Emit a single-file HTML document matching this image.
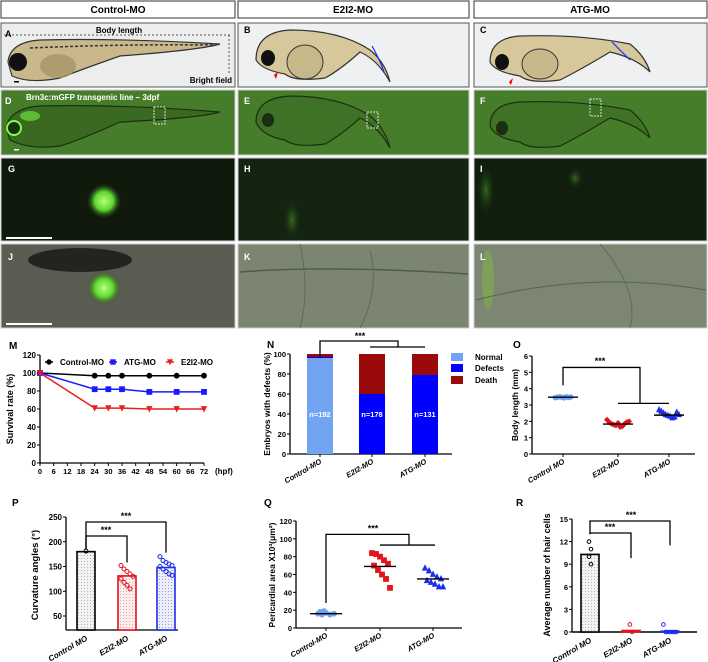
<!DOCTYPE html>
<html><head><meta charset="utf-8">
<style>
html,body{margin:0;padding:0;background:#fff;}
svg{display:block;font-family:"Liberation Sans",Arial,sans-serif;}
text{font-weight:bold;}
</style></head>
<body>
<svg id="fig" width="708" height="662" viewBox="0 0 708 662" xmlns="http://www.w3.org/2000/svg">
<defs>
<radialGradient id="glow" cx="50%" cy="50%" r="50%"><stop offset="0" stop-color="#b6ff7a"/><stop offset="0.55" stop-color="#5fd631"/><stop offset="1" stop-color="#2a5a12" stop-opacity="0"/></radialGradient>
<radialGradient id="glow2" cx="50%" cy="50%" r="50%"><stop offset="0" stop-color="#3f7a24" stop-opacity="0.8"/><stop offset="1" stop-color="#0f1c0c" stop-opacity="0"/></radialGradient>
<pattern id="dots" width="3" height="3" patternUnits="userSpaceOnUse"><rect width="3" height="3" fill="#f2f2f2"/><rect width="1" height="1" fill="#b8b8b8"/></pattern>
<pattern id="dotsR" width="3" height="3" patternUnits="userSpaceOnUse"><rect width="3" height="3" fill="#fbeeee"/><rect width="1" height="1" fill="#e0a0a0"/></pattern>
<pattern id="dotsB" width="3" height="3" patternUnits="userSpaceOnUse"><rect width="3" height="3" fill="#eeeefb"/><rect width="1" height="1" fill="#a0a0e0"/></pattern>
</defs>

<!-- headers -->
<g>
<rect x="1" y="1" width="234" height="17" fill="#fff" stroke="#333" stroke-width="1"/>
<rect x="238" y="1" width="231" height="17" fill="#fff" stroke="#333" stroke-width="1"/>
<rect x="474" y="1" width="233" height="17" fill="#fff" stroke="#333" stroke-width="1"/>
<text x="118" y="13" font-size="10" text-anchor="middle">Control-MO</text>
<text x="353" y="13" font-size="10" text-anchor="middle">E2I2-MO</text>
<text x="590" y="13" font-size="10" text-anchor="middle">ATG-MO</text>
</g>

<!-- Row A-C bright field -->
<g>
<rect x="1" y="23" width="234" height="64" fill="#eceeee" stroke="#555"/>
<path d="M8 62 Q10 42 40 40 Q120 38 220 44 Q200 50 120 56 Q80 70 60 78 Q30 84 12 76 Z" fill="#c9b98a" stroke="#333" stroke-width="1.2"/>
<ellipse cx="18" cy="62" rx="9" ry="9" fill="#111"/>
<ellipse cx="58" cy="66" rx="18" ry="12" fill="#a89467" opacity="0.8"/>
<path d="M30 48 Q120 44 215 45" stroke="#333" stroke-width="1.5" fill="none" stroke-dasharray="3 2"/>
<line x1="4" y1="35" x2="230" y2="35" stroke="#555" stroke-dasharray="2 2"/>
<line x1="229" y1="35" x2="229" y2="75" stroke="#555" stroke-dasharray="2 2"/>
<text x="5" y="37" font-size="9">A</text>
<text x="119" y="33" font-size="8" text-anchor="middle" font-weight="normal">Body length</text>
<text x="232" y="83" font-size="8" text-anchor="end" font-weight="normal">Bright field</text>
<rect x="14" y="81" width="5" height="1.5" fill="#000"/>
</g>
<g>
<rect x="238" y="23" width="231" height="64" fill="#eef0f1" stroke="#555"/>
<path d="M256 60 Q256 32 290 30 Q340 30 370 50 Q385 62 390 82 Q378 60 360 52 Q340 70 325 78 Q295 82 285 74 Q262 70 256 60 Z" fill="#d6c89a" stroke="#333" stroke-width="1.2"/>
<ellipse cx="268" cy="58" rx="7" ry="8" fill="#111"/>
<ellipse cx="305" cy="62" rx="18" ry="17" fill="#c7b889" stroke="#333"/>
<path d="M372 46 Q380 60 384 72" stroke="#1a2cff" stroke-width="1.2" fill="none"/>
<polygon points="278,72 274,75 276,79" fill="#e00"/>
<text x="244" y="33" font-size="9">B</text>
</g>
<g>
<rect x="474" y="23" width="233" height="64" fill="#eef0f1" stroke="#555"/>
<path d="M490 62 Q490 38 520 36 Q580 34 630 44 Q645 56 650 72 Q636 58 610 52 Q580 70 560 80 Q530 84 520 76 Q495 72 490 62 Z" fill="#d6c89a" stroke="#333" stroke-width="1.2"/>
<ellipse cx="502" cy="62" rx="7" ry="8" fill="#111"/>
<ellipse cx="540" cy="64" rx="18" ry="15" fill="#c7b889" stroke="#333"/>
<path d="M612 42 Q622 52 630 60" stroke="#1a2cff" stroke-width="1.2" fill="none"/>
<polygon points="513,78 509,82 511,85" fill="#e00"/>
<text x="480" y="33" font-size="9">C</text>
</g>

<!-- Row D-F green -->
<g>
<rect x="1" y="90" width="234" height="65" fill="#467d2a" stroke="#ccc"/>
<path d="M6 128 Q10 108 40 106 Q120 104 220 112 Q200 118 120 122 Q80 140 60 146 Q30 150 10 140 Z" fill="#3a6a22" stroke="#1c3010" stroke-width="1.2"/>
<ellipse cx="14" cy="128" rx="7" ry="7" fill="#1a2e10" stroke="#7dff45" stroke-width="2"/>
<ellipse cx="30" cy="116" rx="10" ry="5" fill="#6be03a" opacity="0.7"/>
<rect x="154" y="107" width="11" height="17" fill="none" stroke="#ddd" stroke-dasharray="2 1"/>
<text x="5" y="104" font-size="9" fill="#fff">D</text>
<text x="26" y="100" font-size="8" fill="#fff" font-weight="normal">Brn3c:mGFP transgenic line – 3dpf</text>
<rect x="14" y="149" width="5" height="1.5" fill="#fff"/>
</g>
<g>
<rect x="238" y="90" width="231" height="65" fill="#467d2a" stroke="#ccc"/>
<path d="M256 122 Q256 98 290 96 Q340 96 370 116 Q385 128 390 148 Q378 126 360 118 Q340 136 325 144 Q295 148 285 140 Q262 136 256 122 Z" fill="#3f7226" stroke="#1c3010" stroke-width="1.2"/>
<ellipse cx="268" cy="120" rx="6" ry="7" fill="#1a2e10"/>
<rect x="367" y="112" width="11" height="16" fill="none" stroke="#ddd" stroke-dasharray="2 1"/>
<text x="244" y="104" font-size="9" fill="#fff">E</text>
</g>
<g>
<rect x="474" y="90" width="233" height="65" fill="#467d2a" stroke="#ccc"/>
<path d="M490 126 Q490 104 520 102 Q580 100 630 110 Q645 122 650 138 Q636 124 610 118 Q580 136 560 146 Q530 150 520 142 Q495 138 490 126 Z" fill="#3f7226" stroke="#1c3010" stroke-width="1.2"/>
<ellipse cx="502" cy="128" rx="6" ry="7" fill="#1a2e10"/>
<rect x="590" y="99" width="11" height="17" fill="none" stroke="#ddd" stroke-dasharray="2 1"/>
<text x="480" y="104" font-size="9" fill="#fff">F</text>
</g>

<!-- Row G-I -->
<g>
<rect x="1" y="158" width="234" height="83" fill="#0f1a0d" stroke="#ccc"/>
<circle cx="104" cy="201" r="17" fill="url(#glow)"/>
<text x="8" y="172" font-size="9" fill="#fff">G</text>
<rect x="6" y="237" width="46" height="2" fill="#fff"/>
</g>
<g>
<rect x="238" y="158" width="231" height="83" fill="#132410" stroke="#ccc"/>
<ellipse cx="292" cy="220" rx="10" ry="22" fill="url(#glow2)"/>
<text x="244" y="172" font-size="9" fill="#fff">H</text>
</g>
<g>
<rect x="474" y="158" width="233" height="83" fill="#0f1e0d" stroke="#ccc"/>
<ellipse cx="486" cy="190" rx="10" ry="28" fill="url(#glow2)"/>
<ellipse cx="575" cy="178" rx="9" ry="12" fill="url(#glow2)"/>
<text x="480" y="172" font-size="9" fill="#fff">I</text>
</g>

<!-- Row J-L -->
<g>
<rect x="1" y="244" width="234" height="84" fill="#5a5d51" stroke="#ccc"/>
<ellipse cx="80" cy="260" rx="52" ry="12" fill="#232420"/>
<circle cx="104" cy="288" r="17" fill="url(#glow)"/>
<text x="8" y="260" font-size="9" fill="#fff">J</text>
<rect x="6" y="323" width="46" height="2" fill="#fff"/>
</g>
<g>
<rect x="238" y="244" width="231" height="84" fill="#7c8570" stroke="#ccc"/>
<path d="M240 272 Q330 265 468 274" stroke="#4e5a52" stroke-width="1.5" fill="none"/>
<path d="M300 244 Q310 290 300 328" stroke="#5e6a5c" stroke-width="1" fill="none"/>
<path d="M370 250 Q380 290 360 328" stroke="#5e6a5c" stroke-width="1" fill="none"/>
<text x="244" y="260" font-size="9" fill="#fff">K</text>
</g>
<g>
<rect x="474" y="244" width="233" height="84" fill="#7d8672" stroke="#ccc"/>
<ellipse cx="488" cy="280" rx="6" ry="30" fill="#7fb34a" opacity="0.6"/>
<path d="M476 300 Q590 270 706 290" stroke="#56625a" stroke-width="1" fill="none"/>
<path d="M600 244 Q640 290 630 328" stroke="#5e6a5c" stroke-width="1" fill="none"/>
<text x="480" y="260" font-size="9" fill="#fff">L</text>
</g>

<g id="charts"></g>
</svg>

<script>
// ===== Chart M data =====
const mTimes = [0, 24, 30, 36, 48, 60, 72];
const mControl = [100, 97, 97, 97, 97, 97, 97];
const mATG = [100, 82, 82, 82, 79, 79, 79];
const mE2I2 = [100, 61, 61, 61, 60, 60, 60];
const mXTicks = [0, 6, 12, 18, 24, 30, 36, 42, 48, 54, 60, 66, 72];
const mYTicks = [0, 20, 40, 60, 80, 100, 120];
// ===== Chart N data =====
const nGroups = ["Control-MO", "E2I2-MO", "ATG-MO"];
const nNormal = [96, 0, 0];
const nDefects = [1, 60, 79];
const nDeath = [3, 40, 21];
const nLabels = ["n=192", "n=178", "n=131"];
const nYTicks = [0, 20, 40, 60, 80, 100];
// ===== Chart O data =====
const oGroups = ["Control MO", "E2I2-MO", "ATG-MO"];
const oControl = [3.45, 3.48, 3.5, 3.47, 3.44, 3.5, 3.46, 3.49];
const oE2I2 = [2.1, 1.95, 1.85, 1.8, 1.75, 1.9, 1.65, 1.7, 1.85, 1.95, 2.0];
const oATG = [2.7, 2.6, 2.5, 2.4, 2.35, 2.3, 2.2, 2.25, 2.55, 2.4];
const oMeans = [3.48, 1.83, 2.38];
const oYTicks = [0, 1, 2, 3, 4, 5, 6];
// ===== Chart P data =====
const pGroups = ["Control MO", "E2I2-MO", "ATG-MO"];
const pMeans = [180, 131, 148];
const pE2I2 = [152, 145, 140, 135, 130, 125, 118, 112, 105];
const pATG = [170, 162, 158, 155, 152, 150, 145, 140, 135, 132];
const pYTicks = [50, 100, 150, 200, 250];
// ===== Chart Q data =====
const qGroups = ["Control-MO", "E2I2-MO", "ATG-MO"];
const qControl = [16, 15, 17, 15, 16, 18, 19];
const qE2I2 = [84, 83, 80, 76, 72, 70, 65, 60, 55, 45];
const qATG = [67, 64, 60, 57, 55, 53, 51, 49, 46, 46];
const qMeans = [16, 69, 55];
const qYTicks = [0, 20, 40, 60, 80, 100, 120];
// ===== Chart R data =====
const rGroups = ["Control MO", "E2I2-MO", "ATG-MO"];
const rMeans = [10.3, 0.2, 0.1];
const rControl = [12, 11, 10, 9];
const rE2I2 = [1, 0];
const rATG = [1, 0, 0, 0, 0, 0, 0];
const rYTicks = [0, 3, 6, 9, 12, 15];

const NS = "http://www.w3.org/2000/svg";
const root = document.getElementById('charts');
function mk(tag, attrs, parent) {
  const e = document.createElementNS(NS, tag);
  for (const k in attrs) e.setAttribute(k, attrs[k]);
  (parent || root).appendChild(e);
  return e;
}
function txt(x, y, s, size, anchor, parent, extra) {
  const t = mk('text', Object.assign({x: x, y: y, 'font-size': size, 'text-anchor': anchor || 'start'}, extra || {}), parent);
  t.textContent = s;
  return t;
}
function marker(shape, x, y, color, filled, parent, r) {
  r = r || 2.6;
  let e;
  const fill = filled ? color : 'none';
  if (shape === 'circle') e = mk('circle', {cx: x, cy: y, r: r, fill: fill, stroke: color, 'stroke-width': 1}, parent);
  else if (shape === 'square') e = mk('rect', {x: x - r, y: y - r, width: 2 * r, height: 2 * r, fill: fill, stroke: color}, parent);
  else if (shape === 'tri') e = mk('polygon', {points: `${x},${y - r - 0.5} ${x - r},${y + r - 0.5} ${x + r},${y + r - 0.5}`, fill: fill, stroke: color}, parent);
  else if (shape === 'tridown') e = mk('polygon', {points: `${x},${y + r} ${x - r},${y - r} ${x + r},${y - r}`, fill: fill, stroke: color}, parent);
  else e = mk('polygon', {points: `${x},${y - r} ${x + r},${y} ${x},${y + r} ${x - r},${y}`, fill: fill, stroke: color}, parent);
  return e;
}
function yAxis(g, x, ticks, yf, size) {
  const ax = mk('line', {x1: x, y1: yf(ticks[0]), x2: x, y2: yf(ticks[ticks.length - 1]), stroke: '#000', 'stroke-width': 1.3}, g);
  
  
  ticks.forEach(v => {
    mk('line', {x1: x - 3, y1: yf(v), x2: x, y2: yf(v), stroke: '#000'}, g);
    const t = txt(x - 4, yf(v) + 3, String(v), size || 8, 'end', g);
    
    
  });
}
function rotLabels(g, labels, xs, y0, size) {
  labels.forEach((s, i) => {
    const t = txt(xs[i] + 2, y0, s, size || 8, 'end', g, {transform: `rotate(-30 ${xs[i] + 2} ${y0})`, 'font-style': 'italic'});
    
    
  });
}
function yTitle(g, x, y, s, size) {
  const t = txt(x, y, s, size || 9, 'middle', g, {transform: `rotate(-90 ${x} ${y})`});
  
  
}
function panelLabel(g, x, y, s) {
  const t = txt(x, y, s, 10, 'start', g);
  
  
}
function stars(g, x, y) {
  const t = txt(x, y, '***', 9, 'middle', g);
  
  
}
function path(g, d, w) {
  const p = mk('path', {d: d, fill: 'none', stroke: '#000', 'stroke-width': w || 1.3}, g);
  
  
  return p;
}

// ===== Chart M =====
(function () {
  const g = mk('g', {});
  
  
  const xf = t => 40 + t * (164 / 72);
  const yf = v => 463 - v * (108 / 120);
  panelLabel(g, 9, 349, 'M');
  yAxis(g, 40, mYTicks, yf, 8);
  const xa = mk('line', {x1: 40, y1: 463, x2: xf(72), y2: 463, stroke: '#000', 'stroke-width': 1.3}, g);
  
  
  mXTicks.forEach(t => {
    mk('line', {x1: xf(t), y1: 463, x2: xf(t), y2: 466, stroke: '#000'}, g);
    const l = txt(xf(t), 474, String(t), 7.5, 'middle', g);
    
    
  });
  const hp = txt(215, 474, '(hpf)', 8, 'start', g);
  
  
  yTitle(g, 13, 409, 'Survival rate (%)', 9);
  const series = [[mControl, '#000', 'circle', 'Control-MO'], [mATG, '#1a1aff', 'square', 'ATG-MO'], [mE2I2, '#e8201c', 'tridown', 'E2I2-MO']];
  series.forEach(s => {
    const pts = mTimes.map((t, i) => `${xf(t)},${yf(s[0][i])}`).join(' ');
    const pl = mk('polyline', {points: pts, fill: 'none', stroke: s[1], 'stroke-width': 1.5}, g);
    
    
    mTimes.forEach((t, i) => {
      const m = marker(s[2], xf(t), yf(s[0][i]), s[1], true, g, 2.4);
      
      
    });
  });
  const leg = [[49, 60, '#000', 'circle', 'Control-MO'], [113, 124, '#1a1aff', 'square', 'ATG-MO'], [170, 181, '#e8201c', 'tridown', 'E2I2-MO']];
  leg.forEach(l => {
    mk('line', {x1: l[0] - 4, y1: 362, x2: l[0] + 4, y2: 362, stroke: l[2], 'stroke-width': 1.5}, g);
    marker(l[3], l[0], 362, l[2], true, g, 2.2);
    const t = txt(l[1], 365, l[4], 8, 'start', g);
    
    
  });
})();

// ===== Chart N =====
(function () {
  const g = mk('g', {});
  
  
  const yf = v => 454 - v * 1.0;
  const xs = [320, 372, 425];
  const bw = 26;
  panelLabel(g, 267, 348, 'N');
  yAxis(g, 290, nYTicks, yf, 7.5);
  const xa = mk('line', {x1: 290, y1: 454, x2: 452, y2: 454, stroke: '#000', 'stroke-width': 1.3}, g);
  
  
  xs.forEach(x => mk('line', {x1: x, y1: 454, x2: x, y2: 457, stroke: '#000'}, g));
  yTitle(g, 270, 404, 'Embryos with defects (%)', 8.5);
  nGroups.forEach((name, i) => {
    let base = 0;
    [[nNormal, '#71a5f2', 'normal'], [nDefects, '#0000ff', 'defects'], [nDeath, '#9a0a0a', 'death']].forEach(s => {
      const v = s[0][i];
      if (v > 0) {
        const r = mk('rect', {x: xs[i] - bw / 2, y: yf(base + v), width: bw, height: yf(base) - yf(base + v), fill: s[1]}, g);
        
        
      }
      base += v;
    });
    const t = txt(xs[i], yf(40) + 3, nLabels[i], 7.5, 'middle', g, {fill: '#fff'});
    
    
  });
  rotLabels(g, nGroups, xs, 463, 7.5);
  path(g, `M320 ${yf(97)} V341 H398 V347`);
  path(g, `M370 347 H425`);
  stars(g, 360, 339);
  const leg = [['#71a5f2', 'Normal', 357], ['#0000ff', 'Defects', 368], ['#9a0a0a', 'Death', 380]];
  leg.forEach(l => {
    mk('rect', {x: 451, y: l[2] - 4, width: 12, height: 8, fill: l[0]}, g);
    const t = txt(475, l[2] + 3, l[1], 8, 'start', g);
    
    
  });
})();

// ===== Chart O =====
(function () {
  const g = mk('g', {});
  
  
  const yf = v => 454 - v * (98 / 6);
  const xs = [563, 618, 669];
  panelLabel(g, 513, 348, 'O');
  yAxis(g, 532, oYTicks, yf, 7.5);
  const xa = mk('line', {x1: 532, y1: 454, x2: 695, y2: 454, stroke: '#000', 'stroke-width': 1.3}, g);
  
  
  xs.forEach(x => mk('line', {x1: x, y1: 454, x2: x, y2: 457, stroke: '#000'}, g));
  yTitle(g, 518, 405, 'Body length (mm)', 8.5);
  const sets = [[oControl, '#6fa2f0', 'circle'], [oE2I2, '#e3141b', 'diamond'], [oATG, '#1c2fe8', 'tri']];
  sets.forEach((s, i) => {
    s[0].forEach((v, j) => {
      const off = (j - (s[0].length - 1) / 2) * 2.2;
      const m = marker(s[2], xs[i] + off, yf(v), s[1], true, g, 2.3);
      
      
    });
    const ml = mk('line', {x1: xs[i] - 15, y1: yf(oMeans[i]), x2: xs[i] + 15, y2: yf(oMeans[i]), stroke: '#000', 'stroke-width': 1.4}, g);
    
    
  });
  rotLabels(g, oGroups, xs, 463, 7.5);
  path(g, `M563 ${yf(4.2)} V${yf(5.3)} H640 V${yf(3.1)}`);
  path(g, `M618 ${yf(3.1)} H669`);
  stars(g, 600, yf(5.5));
})();

// ===== Chart P =====
(function () {
  const g = mk('g', {});
  
  
  const yf = v => 616 - (v - 50) * 0.495;
  const y0 = 630;
  const xs = [86, 127, 166];
  const bw = 18;
  panelLabel(g, 12, 506, 'P');
  const ax = mk('line', {x1: 66, y1: y0, x2: 66, y2: yf(250), stroke: '#000', 'stroke-width': 1.3}, g);
  
  
  pYTicks.forEach(v => {
    mk('line', {x1: 63, y1: yf(v), x2: 66, y2: yf(v), stroke: '#000'}, g);
    const t = txt(62, yf(v) + 3, String(v), 8, 'end', g);
    
    
  });
  const xa = mk('line', {x1: 66, y1: y0, x2: 178, y2: y0, stroke: '#000', 'stroke-width': 1.3}, g);
  
  
  yTitle(g, 38, 575, 'Curvature angles (°)', 9.5);
  const fills = ['url(#dots)', 'url(#dotsR)', 'url(#dotsB)'];
  const strokes = ['#000', '#e3141b', '#1c2fe8'];
  pMeans.forEach((v, i) => {
    const r = mk('rect', {x: xs[i] - bw / 2, y: yf(v), width: bw, height: y0 - yf(v), fill: fills[i], stroke: strokes[i], 'stroke-width': 1.6}, g);
    
    
  });
  const c = marker('circle', xs[0], yf(181), '#000', false, g, 2);
  
  
  [[pE2I2, 1], [pATG, 2]].forEach(s => {
    s[0].forEach((v, j) => {
      const off = ((j % 5) - 2) * 3;
      const m = marker('circle', xs[s[1]] + off, yf(v), strokes[s[1]], false, g, 2);
      
      
    });
  });
  rotLabels(g, pGroups, xs, 640, 8);
  path(g, `M86 ${yf(185)} V522 H166 V${yf(178)}`);
  path(g, `M86 ${yf(185)} V536 H127 V${yf(158)}`);
  stars(g, 126, 519);
  stars(g, 106, 533);
})();

// ===== Chart Q =====
(function () {
  const g = mk('g', {});
  
  
  const yf = v => 628 - v * (107 / 120);
  const xs = [326, 380, 433];
  panelLabel(g, 264, 506, 'Q');
  yAxis(g, 296, qYTicks, yf, 7.5);
  const xa = mk('line', {x1: 296, y1: 628, x2: 462, y2: 628, stroke: '#000', 'stroke-width': 1.3}, g);
  
  
  xs.forEach(x => mk('line', {x1: x, y1: 628, x2: x, y2: 631, stroke: '#000'}, g));
  yTitle(g, 275, 575, 'Pericardial area X10³(μm²)', 8.5);
  const sets = [[qControl, '#6fa2f0', 'circle'], [qE2I2, '#e3141b', 'square'], [qATG, '#1c2fe8', 'tri']];
  sets.forEach((s, i) => {
    s[0].forEach((v, j) => {
      const off = ((j % 5) - 2) * 4 + (j >= 5 ? 2 : 0);
      const m = marker(s[2], xs[i] + off, yf(v), s[1], true, g, 2.4);
      
      
    });
    const ml = mk('line', {x1: xs[i] - 16, y1: yf(qMeans[i]), x2: xs[i] + 16, y2: yf(qMeans[i]), stroke: '#000', 'stroke-width': 1.4}, g);
    
    
  });
  rotLabels(g, qGroups, xs, 637, 7.5);
  path(g, `M326 ${yf(28)} V${yf(105)} H409 V${yf(93)}`);
  path(g, `M380 ${yf(93)} H435`);
  stars(g, 373, yf(108));
})();

// ===== Chart R =====
(function () {
  const g = mk('g', {});
  
  
  const yf = v => 632 - v * (113 / 15);
  const xs = [590, 631, 670];
  const bw = 18;
  panelLabel(g, 516, 506, 'R');
  yAxis(g, 572, rYTicks, yf, 7.5);
  const xa = mk('line', {x1: 572, y1: 632, x2: 697, y2: 632, stroke: '#000', 'stroke-width': 1.6}, g);
  
  
  yTitle(g, 550, 575, 'Average number of hair cells', 9);
  const fills = ['url(#dots)', 'url(#dotsR)', 'url(#dotsB)'];
  const strokes = ['#000', '#e3141b', '#1c2fe8'];
  rMeans.forEach((v, i) => {
    const r = mk('rect', {x: xs[i] - bw / 2, y: yf(v), width: bw, height: Math.max(632 - yf(v), 0.5), fill: fills[i], stroke: strokes[i], 'stroke-width': 1.6}, g);
    
    
  });
  [[rControl, 0], [rE2I2, 1], [rATG, 2]].forEach(s => {
    s[0].forEach((v, j) => {
      const off = s[1] === 0 ? (j % 2) * 2 - 1 : (j - (s[0].length - 1) / 2) * 2.2;
      const m = marker('circle', xs[s[1]] + off, yf(v), strokes[s[1]], false, g, 1.8);
      
      
    });
  });
  rotLabels(g, rGroups, xs, 642, 8);
  path(g, `M590 ${yf(13)} V521 H670 V${yf(11.5)}`);
  path(g, `M590 ${yf(13)} V533 H631 V${yf(9.8)}`);
  stars(g, 631, 518);
  stars(g, 610, 530);
})();
</script>
</body></html>
